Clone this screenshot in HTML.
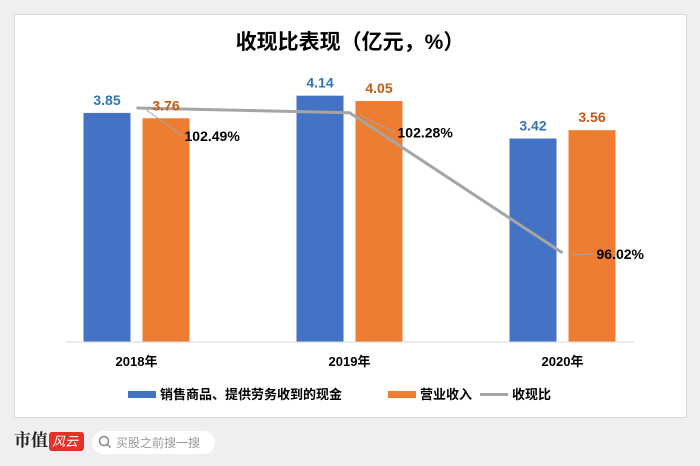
<!DOCTYPE html>
<html><head><meta charset="utf-8"><style>
body{margin:0;width:700px;height:466px;background:#efefef;font-family:"Liberation Sans","Noto Sans CJK SC",sans-serif;overflow:hidden;position:relative}
#card{position:absolute;left:14px;top:14px;width:671px;height:402px;background:#fff;border:1px solid #dcdcdc}
</style></head><body>
<div id="card"></div>
<svg id="chart" width="700" height="466" style="position:absolute;left:0;top:0">
<text x="350" y="49" text-anchor="middle" font-size="21" font-weight="bold" fill="#000">收现比表现（亿元，%）</text>
<g id="marks"></g>
<line x1="66" y1="342" x2="634" y2="342" stroke="#d9d9d9"/>
<g font-size="13" font-weight="bold" fill="#000">
<rect x="128" y="391" width="28" height="7" fill="#4472c4"/>
<text x="160" y="399">销售商品、提供劳务收到的现金</text>
<rect x="388" y="391" width="28" height="7" fill="#ed7d31"/>
<text x="420" y="399">营业收入</text>
<line x1="480" y1="394.5" x2="508" y2="394.5" stroke="#a5a5a5" stroke-width="3"/>
<text x="512" y="399">收现比</text>
</g>
<g>
<text x="14" y="446" font-size="17" font-weight="bold" fill="#222" font-family="'Noto Serif CJK SC',serif">市值</text>
<rect x="49" y="432" width="35" height="19" rx="3" fill="#e8302b"/>
<text x="52" y="446" font-size="13" fill="#fff" font-style="italic">风云</text>
</g>
<rect x="92" y="431" width="123" height="23" rx="11.5" fill="#fff"/>
<circle cx="104" cy="441" r="4.5" fill="none" stroke="#888" stroke-width="1.5"/>
<line x1="107.5" y1="444.5" x2="110.5" y2="447.5" stroke="#888" stroke-width="1.5"/>
<text x="116" y="447" font-size="12" fill="#999">买股之前搜一搜</text>
</svg>
<script>
const categories=["2018年","2019年","2020年"];
const cashValues=[3.85,4.14,3.42];
const revenueValues=[3.76,4.05,3.56];
const ratioValues=[102.49,102.28,96.02];
const NS="http://www.w3.org/2000/svg";
const g=document.getElementById("marks");
const base=342;
const yBar=v=>base-v*59.5;
const yRatio=v=>108+(102.49-v)*22.4;
const xCenter=i=>136.5+i*213;
function mk(t,a,txt){const e=document.createElementNS(NS,t);for(const k in a)e.setAttribute(k,a[k]);if(txt!=null)e.textContent=txt;g.appendChild(e);return e;}
categories.forEach((c,i)=>{
 const cx=xCenter(i);
 const b=mk("rect",{x:cx-53,y:yBar(cashValues[i]),width:47,height:base-yBar(cashValues[i]),fill:"#4472c4"});
 
 
 const o=mk("rect",{x:cx+6,y:yBar(revenueValues[i]),width:47,height:base-yBar(revenueValues[i]),fill:"#ed7d31"});
 
 
 const xl=mk("text",{x:cx,y:366,"text-anchor":"middle","font-size":13,"font-weight":"bold",fill:"#000"},c);
 
 
});
const pts=ratioValues.map((v,i)=>xCenter(i)+","+yRatio(v)).join(" ");
const line=mk("polyline",{points:pts,fill:"none",stroke:"#a5a5a5","stroke-width":3});


categories.forEach((c,i)=>{
 const cx=xCenter(i);
 const l1=mk("text",{x:cx-29.5,y:yBar(cashValues[i])-8,"text-anchor":"middle","font-size":14,"font-weight":"bold",fill:"#2e75b6"},cashValues[i].toFixed(2));
 
 
 const l2=mk("text",{x:cx+29.5,y:yBar(revenueValues[i])-8,"text-anchor":"middle","font-size":14,"font-weight":"bold",fill:"#c55a11"},revenueValues[i].toFixed(2));
 
 
});
const lblOff=[[48,33],[48,25],[34,6]];
ratioValues.forEach((v,i)=>{
 const x=xCenter(i),y=yRatio(v);
 const ld=mk("line",{x1:x+10,y1:y+2,x2:x+lblOff[i][0]-2,y2:y+lblOff[i][1]-5,stroke:"#a5a5a5","stroke-width":1});
 
 
 const t=mk("text",{x:x+lblOff[i][0],y:y+lblOff[i][1],"font-size":14,"font-weight":"bold",fill:"#000"},v.toFixed(2)+"%");
 
 
});
</script>
</body></html>
